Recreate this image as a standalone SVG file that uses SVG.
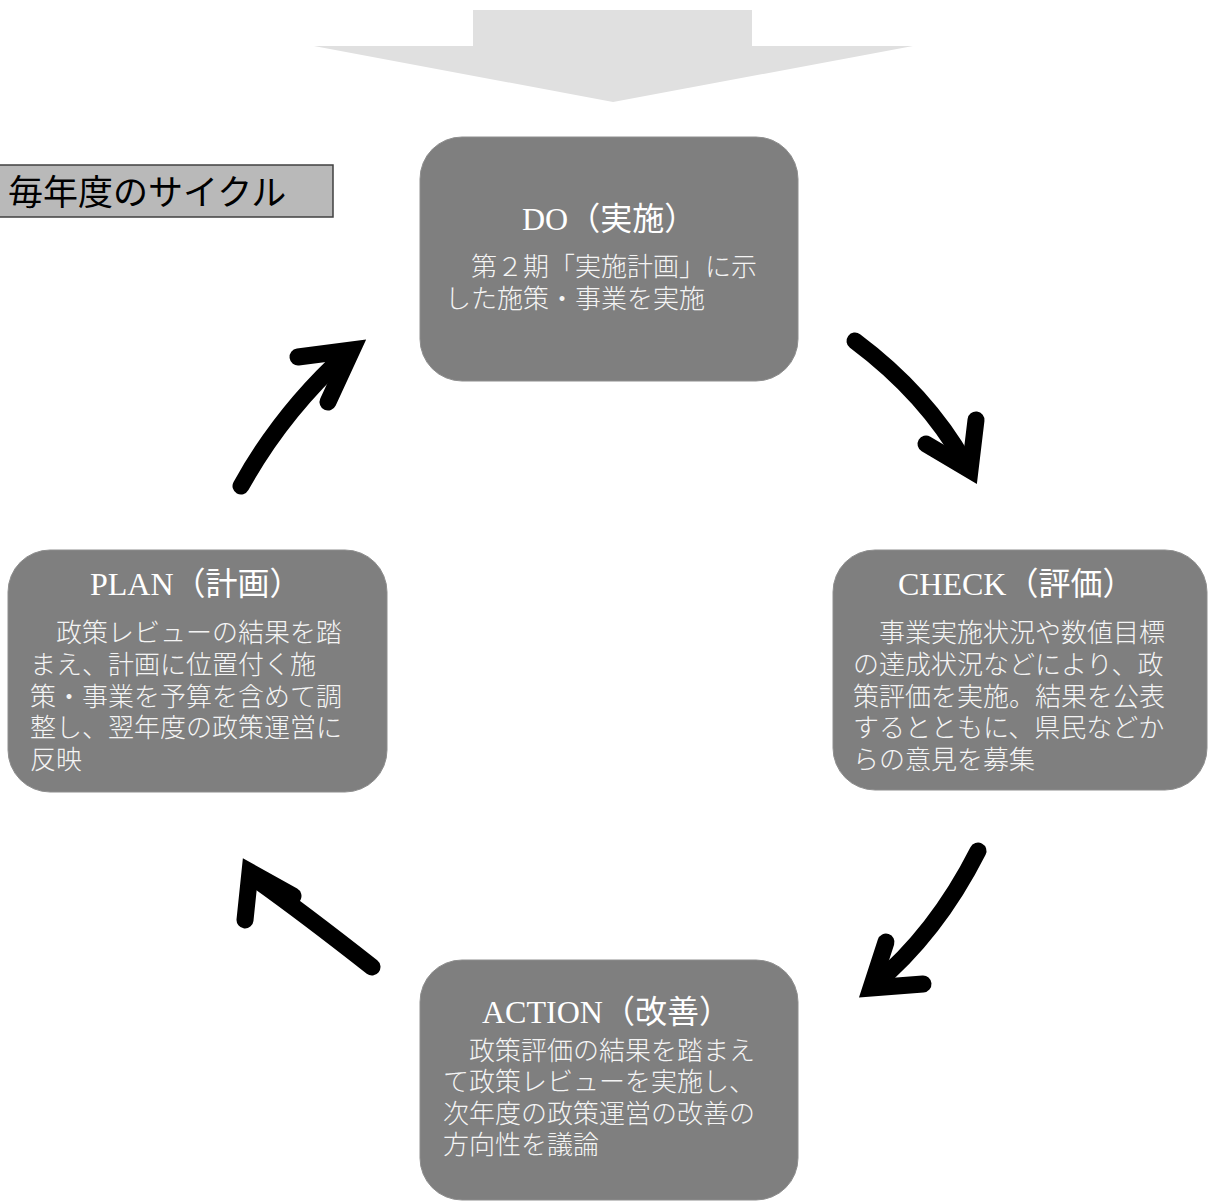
<svg xmlns="http://www.w3.org/2000/svg" width="1208" height="1202" viewBox="0 0 1208 1202">
<defs>
<style>
.node{fill:#7f7f7f;stroke:#8e8e8e;stroke-width:1}
.title{font-family:"Liberation Serif","Noto Sans CJK JP",serif;font-size:32px;fill:#ffffff}
.body{font-family:"Noto Sans CJK JP",sans-serif;font-size:26px;font-weight:300;fill:#f4f4f4}
.shaft{fill:none;stroke:#000;stroke-width:17;stroke-linecap:round}
.head{fill:none;stroke:#000;stroke-width:17;stroke-linecap:round;stroke-linejoin:miter;stroke-miterlimit:6}
.label{font-family:"Noto Sans CJK JP",sans-serif;font-size:35px;fill:#000}
</style>
</defs>
<rect width="1208" height="1202" fill="#ffffff"/>
<polygon id="topArrow" points="473,10 752,10 752,46 913,46 613,102 314,46 473,46" fill="#e0e0e0"/>
<g id="label">
<rect x="-1" y="165" width="334" height="52" fill="#b9b9b9" stroke="#404040" stroke-width="1.5"/>
<text class="label" x="8" y="205">毎年度のサイクル</text>
</g>
<g id="connectors">
<path class="shaft" d="M241 486 Q282 412 346 354"/>
<path class="head" d="M298 357 L352 350 L328 402"/>
<path class="shaft" d="M855 341 Q926 394 965 463"/>
<path class="head" d="M976 420 L970 470 L926 444"/>
<path class="shaft" d="M978 851 Q936 934 873 986"/>
<path class="head" d="M886 942 L871 988 L923 984"/>
<path class="shaft" d="M372 967 Q302 912 254 878"/>
<path class="head" d="M245 920 L250 872 L293 896"/>
</g>
<g id="do">
<rect class="node" x="420" y="137" width="378" height="244" rx="42"/>
<text class="title" x="522" y="230">DO（実施）</text>
<text class="body"><tspan x="445" y="276">　第２期「実施計画」に示</tspan><tspan x="445" y="308">した施策・事業を実施</tspan></text>
</g>
<g id="check">
<rect class="node" x="833" y="550" width="374" height="240" rx="42"/>
<text class="title" x="898" y="595">CHECK（評価）</text>
<text class="body"><tspan x="853" y="642">　事業実施状況や数値目標</tspan><tspan x="853" y="674">の達成状況などにより、政</tspan><tspan x="853" y="706">策評価を実施。結果を公表</tspan><tspan x="853" y="737">するとともに、県民などか</tspan><tspan x="853" y="769">らの意見を募集</tspan></text>
</g>
<g id="action">
<rect class="node" x="420" y="960" width="378" height="240" rx="42"/>
<text class="title" x="482" y="1023">ACTION（改善）</text>
<text class="body"><tspan x="443" y="1060">　政策評価の結果を踏まえ</tspan><tspan x="443" y="1091">て政策レビューを実施し、</tspan><tspan x="443" y="1123">次年度の政策運営の改善の</tspan><tspan x="443" y="1154">方向性を議論</tspan></text>
</g>
<g id="plan">
<rect class="node" x="8" y="550" width="379" height="242" rx="42"/>
<text class="title" x="90" y="595">PLAN（計画）</text>
<text class="body"><tspan x="30" y="642">　政策レビューの結果を踏</tspan><tspan x="30" y="674">まえ、計画に位置付く施</tspan><tspan x="30" y="706">策・事業を予算を含めて調</tspan><tspan x="30" y="737">整し、翌年度の政策運営に</tspan><tspan x="30" y="769">反映</tspan></text>
</g>
</svg>
